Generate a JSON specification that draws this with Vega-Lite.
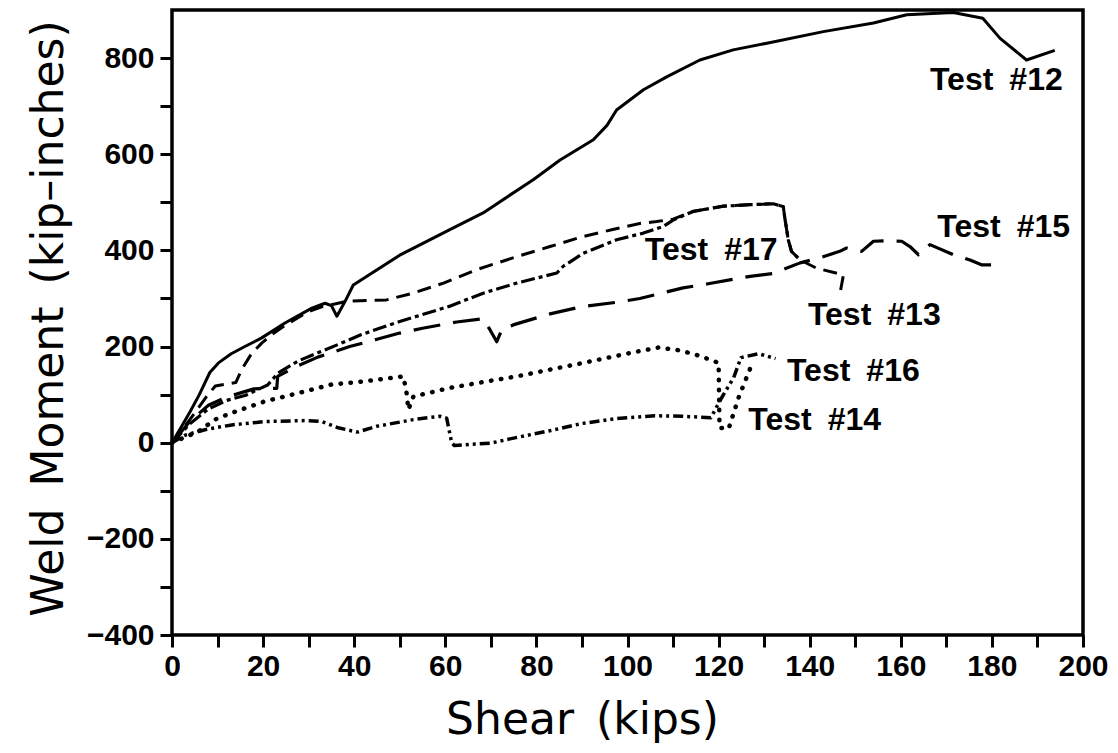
{
  "$schema": "https://vega.github.io/schema/vega-lite/v6.json",
  "autosize": {"type": "none"},
  "padding": {"left": 172, "top": 10, "right": 35, "bottom": 118},
  "width": 911,
  "height": 625,
  "background": "white",
  "config": {
    "view": {"stroke": "black", "strokeWidth": 3.5},
    "axis": {
      "domain": false,
      "grid": false,
      "tickColor": "black",
      "tickWidth": 3,
      "tickSize": 12,
      "labelFlush": false,
      "labelFont": "Liberation Sans",
      "labelFontWeight": "bold",
      "labelFontSize": 30,
      "labelColor": "black",
      "titleFont": "DejaVu Sans",
      "titleFontWeight": "normal",
      "titleFontSize": 44,
      "titleColor": "black"
    }
  },
  "datasets": {
    "curves": [
      {"t": "12", "x": 0, "y": 0}, {"t": "12", "x": 2, "y": 32}, {"t": "12", "x": 4, "y": 65}, {"t": "12", "x": 6, "y": 100}, {"t": "12", "x": 8.3, "y": 146}, {"t": "12", "x": 10.2, "y": 166}, {"t": "12", "x": 13, "y": 185}, {"t": "12", "x": 16, "y": 200}, {"t": "12", "x": 19.7, "y": 218}, {"t": "12", "x": 24.8, "y": 249}, {"t": "12", "x": 30.7, "y": 280}, {"t": "12", "x": 33.6, "y": 290}, {"t": "12", "x": 35, "y": 285}, {"t": "12", "x": 36.2, "y": 263}, {"t": "12", "x": 38, "y": 294}, {"t": "12", "x": 39.8, "y": 328}, {"t": "12", "x": 41.6, "y": 339}, {"t": "12", "x": 50, "y": 390}, {"t": "12", "x": 61, "y": 443}, {"t": "12", "x": 68.3, "y": 478}, {"t": "12", "x": 79.3, "y": 547}, {"t": "12", "x": 85.2, "y": 588}, {"t": "12", "x": 92.5, "y": 630}, {"t": "12", "x": 95.5, "y": 660}, {"t": "12", "x": 97.6, "y": 692}, {"t": "12", "x": 103.5, "y": 734}, {"t": "12", "x": 108.6, "y": 761}, {"t": "12", "x": 115.9, "y": 796}, {"t": "12", "x": 123.2, "y": 817}, {"t": "12", "x": 130.6, "y": 831}, {"t": "12", "x": 143, "y": 855}, {"t": "12", "x": 154, "y": 873}, {"t": "12", "x": 161.3, "y": 890}, {"t": "12", "x": 171.5, "y": 895}, {"t": "12", "x": 178, "y": 883}, {"t": "12", "x": 181.8, "y": 841}, {"t": "12", "x": 187.6, "y": 796}, {"t": "12", "x": 193.8, "y": 816},

      {"t": "13", "x": 0, "y": 0}, {"t": "13", "x": 2.5, "y": 30}, {"t": "13", "x": 5, "y": 62}, {"t": "13", "x": 7.5, "y": 95}, {"t": "13", "x": 9.5, "y": 118}, {"t": "13", "x": 12, "y": 122}, {"t": "13", "x": 14, "y": 125}, {"t": "13", "x": 15.3, "y": 152}, {"t": "13", "x": 17.5, "y": 186}, {"t": "13", "x": 19.7, "y": 207}, {"t": "13", "x": 21.9, "y": 225}, {"t": "13", "x": 25, "y": 245}, {"t": "13", "x": 30, "y": 273}, {"t": "13", "x": 33, "y": 283}, {"t": "13", "x": 35.5, "y": 288}, {"t": "13", "x": 38.4, "y": 294}, {"t": "13", "x": 43, "y": 296}, {"t": "13", "x": 47.1, "y": 297}, {"t": "13", "x": 52.9, "y": 311}, {"t": "13", "x": 59.6, "y": 332}, {"t": "13", "x": 66.9, "y": 360}, {"t": "13", "x": 75.7, "y": 387}, {"t": "13", "x": 83, "y": 408}, {"t": "13", "x": 90.3, "y": 429}, {"t": "13", "x": 97, "y": 444}, {"t": "13", "x": 102.7, "y": 456}, {"t": "13", "x": 106.4, "y": 460}, {"t": "13", "x": 110, "y": 465}, {"t": "13", "x": 114.4, "y": 481}, {"t": "13", "x": 121, "y": 492}, {"t": "13", "x": 126.9, "y": 495}, {"t": "13", "x": 132, "y": 497}, {"t": "13", "x": 134.2, "y": 491}, {"t": "13", "x": 134.6, "y": 463}, {"t": "13", "x": 135.3, "y": 422}, {"t": "13", "x": 136, "y": 398}, {"t": "13", "x": 137.9, "y": 380}, {"t": "13", "x": 141.5, "y": 363}, {"t": "13", "x": 147.4, "y": 349}, {"t": "13", "x": 147, "y": 328}, {"t": "13", "x": 146.6, "y": 308},

      {"t": "15", "x": 0, "y": 0}, {"t": "15", "x": 4, "y": 45}, {"t": "15", "x": 8, "y": 78}, {"t": "15", "x": 12, "y": 95}, {"t": "15", "x": 18, "y": 112}, {"t": "15", "x": 23, "y": 113}, {"t": "15", "x": 23.2, "y": 138}, {"t": "15", "x": 27.7, "y": 160}, {"t": "15", "x": 32, "y": 178}, {"t": "15", "x": 39, "y": 200}, {"t": "15", "x": 45, "y": 215}, {"t": "15", "x": 50, "y": 228}, {"t": "15", "x": 55, "y": 238}, {"t": "15", "x": 62.5, "y": 251}, {"t": "15", "x": 68.3, "y": 258}, {"t": "15", "x": 69.8, "y": 235}, {"t": "15", "x": 71.3, "y": 210}, {"t": "15", "x": 72.4, "y": 235}, {"t": "15", "x": 74.9, "y": 245}, {"t": "15", "x": 83, "y": 268}, {"t": "15", "x": 90, "y": 283}, {"t": "15", "x": 97.6, "y": 292}, {"t": "15", "x": 102.7, "y": 300}, {"t": "15", "x": 112.2, "y": 322}, {"t": "15", "x": 117.4, "y": 330}, {"t": "15", "x": 126.9, "y": 346}, {"t": "15", "x": 132, "y": 352}, {"t": "15", "x": 137.9, "y": 374}, {"t": "15", "x": 142.3, "y": 385}, {"t": "15", "x": 146.6, "y": 398}, {"t": "15", "x": 148.1, "y": 405}, {"t": "15", "x": 151.4, "y": 398}, {"t": "15", "x": 154, "y": 419}, {"t": "15", "x": 156.5, "y": 420}, {"t": "15", "x": 160.2, "y": 419}, {"t": "15", "x": 162, "y": 408}, {"t": "15", "x": 163.9, "y": 391}, {"t": "15", "x": 166.4, "y": 412}, {"t": "15", "x": 171.5, "y": 391}, {"t": "15", "x": 175.2, "y": 380}, {"t": "15", "x": 177.7, "y": 370}, {"t": "15", "x": 180.3, "y": 370},

      {"t": "17", "x": 0, "y": 0}, {"t": "17", "x": 4, "y": 40}, {"t": "17", "x": 8, "y": 70}, {"t": "17", "x": 12, "y": 88}, {"t": "17", "x": 16, "y": 98}, {"t": "17", "x": 21, "y": 120}, {"t": "17", "x": 23.3, "y": 145}, {"t": "17", "x": 27.7, "y": 170}, {"t": "17", "x": 32, "y": 187}, {"t": "17", "x": 36.4, "y": 204}, {"t": "17", "x": 41.6, "y": 225}, {"t": "17", "x": 50, "y": 252}, {"t": "17", "x": 61, "y": 284}, {"t": "17", "x": 68.3, "y": 311}, {"t": "17", "x": 75.7, "y": 332}, {"t": "17", "x": 84.5, "y": 353}, {"t": "17", "x": 85.9, "y": 367}, {"t": "17", "x": 90.3, "y": 394}, {"t": "17", "x": 97.6, "y": 422}, {"t": "17", "x": 103.5, "y": 436}, {"t": "17", "x": 107.9, "y": 450}, {"t": "17", "x": 110, "y": 463}, {"t": "17", "x": 114.4, "y": 481}, {"t": "17", "x": 121, "y": 492}, {"t": "17", "x": 126.9, "y": 495}, {"t": "17", "x": 132, "y": 497}, {"t": "17", "x": 134.2, "y": 491}, {"t": "17", "x": 134.6, "y": 463}, {"t": "17", "x": 135.3, "y": 422}, {"t": "17", "x": 136, "y": 398}, {"t": "17", "x": 137.9, "y": 380},

      {"t": "14", "x": 0, "y": 0}, {"t": "14", "x": 3, "y": 12}, {"t": "14", "x": 5.9, "y": 24}, {"t": "14", "x": 9.4, "y": 48}, {"t": "14", "x": 13.1, "y": 62}, {"t": "14", "x": 20.4, "y": 86}, {"t": "14", "x": 27.7, "y": 103}, {"t": "14", "x": 35, "y": 121}, {"t": "14", "x": 41.6, "y": 127}, {"t": "14", "x": 50.8, "y": 138}, {"t": "14", "x": 51.5, "y": 103}, {"t": "14", "x": 51.9, "y": 69}, {"t": "14", "x": 53, "y": 96}, {"t": "14", "x": 61, "y": 114}, {"t": "14", "x": 67.6, "y": 125}, {"t": "14", "x": 75.7, "y": 138}, {"t": "14", "x": 90.3, "y": 166}, {"t": "14", "x": 101.3, "y": 188}, {"t": "14", "x": 106.8, "y": 198}, {"t": "14", "x": 111.5, "y": 192}, {"t": "14", "x": 115.7, "y": 181}, {"t": "14", "x": 120, "y": 166}, {"t": "14", "x": 120.1, "y": 100}, {"t": "14", "x": 120.2, "y": 31}, {"t": "14", "x": 122.2, "y": 29}, {"t": "14", "x": 124.4, "y": 94}, {"t": "14", "x": 127, "y": 156}, {"t": "14", "x": 127.5, "y": 170},

      {"t": "16", "x": 0, "y": 0}, {"t": "16", "x": 3, "y": 16}, {"t": "16", "x": 7.2, "y": 27}, {"t": "16", "x": 13.1, "y": 37}, {"t": "16", "x": 20.4, "y": 44}, {"t": "16", "x": 29.2, "y": 46}, {"t": "16", "x": 32.9, "y": 44}, {"t": "16", "x": 36.5, "y": 31}, {"t": "16", "x": 40.7, "y": 22}, {"t": "16", "x": 44.9, "y": 34}, {"t": "16", "x": 53, "y": 48}, {"t": "16", "x": 58.8, "y": 55}, {"t": "16", "x": 60.3, "y": 51}, {"t": "16", "x": 61.4, "y": 0}, {"t": "16", "x": 62, "y": -6}, {"t": "16", "x": 66, "y": -3}, {"t": "16", "x": 70, "y": -1}, {"t": "16", "x": 74.2, "y": 8}, {"t": "16", "x": 83, "y": 25}, {"t": "16", "x": 90, "y": 40}, {"t": "16", "x": 97.5, "y": 50}, {"t": "16", "x": 106, "y": 56}, {"t": "16", "x": 112, "y": 55}, {"t": "16", "x": 118.3, "y": 52}, {"t": "16", "x": 120.7, "y": 94}, {"t": "16", "x": 123.3, "y": 135}, {"t": "16", "x": 124.9, "y": 177}, {"t": "16", "x": 128.8, "y": 185}, {"t": "16", "x": 132.5, "y": 175}
    ],
    "labels": [
      {"label": "Test\u2002#12", "x": 166.4, "y": 755},
      {"label": "Test\u2002#15", "x": 168, "y": 449},
      {"label": "Test\u2002#17", "x": 103.8, "y": 401},
      {"label": "Test\u2002#13", "x": 139.6, "y": 266},
      {"label": "Test\u2002#16", "x": 135, "y": 150},
      {"label": "Test\u2002#14", "x": 126.5, "y": 48}
    ]
  },
  "layer": [
    {
      "data": {"name": "curves"},
      "transform": [{"filter": "datum.t === '12'"}],
      "mark": {"type": "line", "color": "black", "strokeWidth": 3, "strokeJoin": "round", "clip": true},
      "encoding": {
        "x": {"field": "x", "type": "quantitative", "scale": {"domain": [0, 200], "nice": false},
          "axis": {"title": "Shear\u2002(kips)", "values": [0,10,20,30,40,50,60,70,80,90,100,110,120,130,140,150,160,170,180,190,200],
            "labelExpr": "datum.value % 20 === 0 ? datum.label : ''", "labelPadding": 4, "labelOverlap": false, "titleX": 410, "titleY": 98, "titleAnchor": "middle", "titleAlign": "center", "titleBaseline": "alphabetic"}},
        "y": {"field": "y", "type": "quantitative", "scale": {"domain": [-400, 900], "nice": false},
          "axis": {"title": "Weld\u2002Moment\u2002(kip\u2013inches)", "values": [-400,-300,-200,-100,0,100,200,300,400,500,600,700,800],
            "labelExpr": "datum.value % 200 === 0 ? datum.label : ''", "labelPadding": 6, "labelOverlap": false,
            "titleX": -110, "titleY": 308, "titleAngle": -90, "titleAlign": "center", "titleBaseline": "alphabetic", "titleAnchor": "middle"}},
        "order": {"value": null}
      }
    },
    {
      "data": {"name": "curves"},
      "transform": [{"filter": "datum.t === '13'"}],
      "mark": {"type": "line", "color": "black", "strokeWidth": 3, "strokeDash": [14, 8], "strokeJoin": "round"},
      "encoding": {"x": {"field": "x", "type": "quantitative"}, "y": {"field": "y", "type": "quantitative"}, "order": {"value": null}}
    },
    {
      "data": {"name": "curves"},
      "transform": [{"filter": "datum.t === '15'"}],
      "mark": {"type": "line", "color": "black", "strokeWidth": 3.2, "strokeDash": [27, 13], "strokeJoin": "round"},
      "encoding": {"x": {"field": "x", "type": "quantitative"}, "y": {"field": "y", "type": "quantitative"}, "order": {"value": null}}
    },
    {
      "data": {"name": "curves"},
      "transform": [{"filter": "datum.t === '17'"}],
      "mark": {"type": "line", "color": "black", "strokeWidth": 3.2, "strokeDash": [14, 4, 4, 4], "strokeJoin": "round"},
      "encoding": {"x": {"field": "x", "type": "quantitative"}, "y": {"field": "y", "type": "quantitative"}, "order": {"value": null}}
    },
    {
      "data": {"name": "curves"},
      "transform": [{"filter": "datum.t === '14'"}],
      "mark": {"type": "line", "color": "black", "strokeWidth": 4.5, "strokeDash": [0.5, 9.5], "strokeCap": "round", "strokeJoin": "round"},
      "encoding": {"x": {"field": "x", "type": "quantitative"}, "y": {"field": "y", "type": "quantitative"}, "order": {"value": null}}
    },
    {
      "data": {"name": "curves"},
      "transform": [{"filter": "datum.t === '16'"}],
      "mark": {"type": "line", "color": "black", "strokeWidth": 3.5, "strokeDash": [10, 4, 3, 4, 3, 4], "strokeJoin": "round"},
      "encoding": {"x": {"field": "x", "type": "quantitative"}, "y": {"field": "y", "type": "quantitative"}, "order": {"value": null}}
    },
    {
      "mark": {"type": "rule", "color": "black", "strokeWidth": 3.5},
      "encoding": {"y": {"datum": 0}}
    },
    {
      "data": {"name": "labels"},
      "mark": {"type": "text", "align": "left", "baseline": "middle", "font": "Liberation Sans", "fontWeight": "bold", "fontSize": 32, "color": "black"},
      "encoding": {
        "x": {"field": "x", "type": "quantitative"},
        "y": {"field": "y", "type": "quantitative"},
        "text": {"field": "label"}
      }
    }
  ]
}
